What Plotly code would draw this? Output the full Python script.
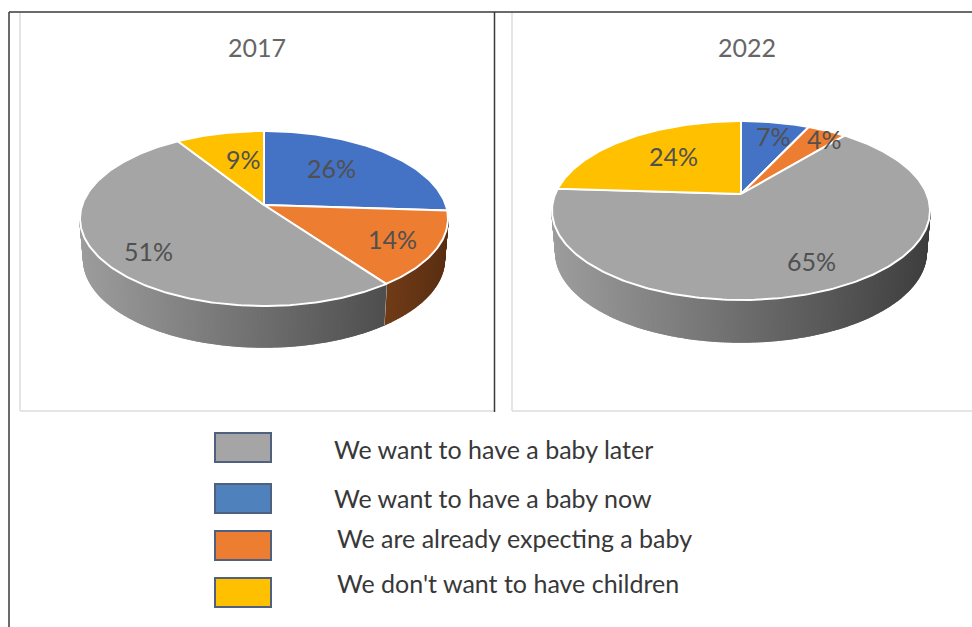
import math
import plotly.graph_objects as go

years = ["2017", "2022"]
categories_pie = ["We want to have a baby now", "We are already expecting a baby",
                  "We want to have a baby later", "We don't want to have children"]
values_2017 = [26, 14, 51, 9]
values_2022 = [7, 4, 65, 24]
label_text_2017 = ["26%", "14%", "51%", "9%"]
label_text_2022 = ["7%", "4%", "65%", "24%"]
legend_labels = ["We want to have a baby later", "We want to have a baby now",
                 "We are already expecting a baby", "We don't want to have children"]

pie_colors = ["#4472C4", "#ED7D31", "#A5A5A5", "#FFC000"]
legend_colors = ["#A5A5A5", "#4F81BD", "#ED7D31", "#FFC000"]

# projection of each pie: apex x, apex y, top y, bottom y, half width, depth
GEOM = [
    dict(cx=264, cy=205, top=131, bottom=306, half=184, depth=41, title_x=257, title_y=47),
    dict(cx=741, cy=194, top=121, bottom=300, half=189, depth=42, title_x=747, title_y=47),
]
LABEL_POS = [
    [(331, 168), (392, 239), (148, 251), (243, 159)],
    [(773, 136), (824, 139), (811, 261), (673, 156)],
]
LEGEND_SWATCH_Y = [(433, 462), (484, 513), (531, 560), (578, 607)]
LEGEND_TEXT_POS = [(332, 449), (332, 498), (335, 538), (335, 583)]
BOTTOM_NARROW = 0.98


def projector(g):
    up = g["cy"] - g["top"]
    dn = g["bottom"] - g["cy"]
    p = (up - dn) / (up + dn)
    a = dn * (1 + p)
    r = g["half"] * math.sqrt(1 - p * p)

    def pt(deg, frac=1.0):
        rad = math.radians(deg)
        u, v = math.sin(rad) * frac, -math.cos(rad) * frac
        w = 1 + p * v
        return g["cx"] + r * u / w, g["cy"] + a * v / w

    return pt, -p


def shade(hex_color, f):
    s = 0.95 - 0.57 * f
    c = [int(hex_color[i:i + 2], 16) for i in (1, 3, 5)]
    return "rgb(%d,%d,%d)" % tuple(round(x * s) for x in c)


fig = go.Figure()

for g, values in zip(GEOM, [values_2017, values_2022]):
    pt, vt = projector(g)
    tang = math.degrees(math.acos(-vt))
    lo, hi = tang, 360 - tang
    total = sum(values)
    start = 0.0
    bounds = []
    for val, col in zip(values, pie_colors):
        end = start + 360 * val / total
        bounds.append((start, end, col))
        start = end

    def low(x):
        return g["cx"] + (x - g["cx"]) * BOTTOM_NARROW

    # side wall
    for s, e, col in bounds:
        a0, a1 = max(s, lo), min(e, hi)
        if a1 <= a0:
            continue
        n = max(1, int((a1 - a0) / 0.5))
        for i in range(n):
            t0 = a0 + (a1 - a0) * i / n
            t1 = a0 + (a1 - a0) * (i + 1) / n
            x0, y0 = pt(t0)
            x1, y1 = pt(t1)
            f = ((x0 + x1) / 2 - (g["cx"] - g["half"])) / (2 * g["half"])
            c = shade(col, f)
            fig.add_trace(go.Scatter(
                x=[x0, x1, low(x1), low(x0), x0],
                y=[y0, y1, y1 + g["depth"], y0 + g["depth"], y0],
                mode="lines", fill="toself", fillcolor=c, line=dict(color=c, width=1.5),
                hoverinfo="skip", showlegend=False))
        # white separator between wall pieces
        if lo < e < hi:
            x, y = pt(e)
            fig.add_trace(go.Scatter(x=[x, low(x)], y=[y, y + g["depth"]], mode="lines",
                                     line=dict(color="#FFFFFF", width=2),
                                     hoverinfo="skip", showlegend=False))

    # top face
    for s, e, col in bounds:
        n = max(2, int(e - s))
        pts = [pt(s + (e - s) * i / n) for i in range(n + 1)]
        xs = [g["cx"]] + [q[0] for q in pts] + [g["cx"]]
        ys = [g["cy"]] + [q[1] for q in pts] + [g["cy"]]
        fig.add_trace(go.Scatter(x=xs, y=ys, mode="lines", fill="toself", fillcolor=col,
                                 line=dict(color="#FFFFFF", width=2),
                                 hoverinfo="skip", showlegend=False))

shapes = []
LIGHT = dict(color="#DCDCDC", width=1.5)
DARK = dict(color="#3A3A3A", width=1.5)
for x0, y0, x1, y1 in [(20, 12, 20, 411), (20, 411, 494, 411), (512, 12, 512, 411), (512, 411, 972, 411)]:
    shapes.append(dict(type="line", x0=x0, y0=y0, x1=x1, y1=y1, line=LIGHT, layer="below"))
for x0, y0, x1, y1 in [(9, 12, 972, 12), (9, 12, 9, 627), (494.5, 12, 494.5, 412)]:
    shapes.append(dict(type="line", x0=x0, y0=y0, x1=x1, y1=y1, line=DARK))
for (y0, y1), col in zip(LEGEND_SWATCH_Y, legend_colors):
    shapes.append(dict(type="rect", x0=215, x1=271, y0=y0, y1=y1, fillcolor=col,
                       line=dict(color="#50617F", width=2)))

ann = []
for g, yr in zip(GEOM, years):
    ann.append(dict(x=g["title_x"], y=g["title_y"], text=yr, showarrow=False,
                    font=dict(family="Lato", size=25, color="#666666")))
for pos, texts in zip(LABEL_POS, [label_text_2017, label_text_2022]):
    for (x, y), t in zip(pos, texts):
        ann.append(dict(x=x, y=y, text=t, showarrow=False,
                        font=dict(family="Lato", size=25, color="#505050")))
for (x, y), t in zip(LEGEND_TEXT_POS, legend_labels):
    ann.append(dict(x=x, y=y, text=t, showarrow=False, xanchor="left",
                    font=dict(family="Lato", size=25, color="#383838")))

fig.update_layout(
    width=972, height=627, margin=dict(l=0, r=0, t=0, b=0),
    paper_bgcolor="#FFFFFF", plot_bgcolor="#FFFFFF", showlegend=False,
    xaxis=dict(range=[0, 972], visible=False, fixedrange=True),
    yaxis=dict(range=[627, 0], visible=False, fixedrange=True),
    shapes=shapes, annotations=ann,
)
fig.write_html("out.html", config=dict(displayModeBar=False),
               post_script="document.body.style.margin='0';document.body.style.overflow='hidden';")
